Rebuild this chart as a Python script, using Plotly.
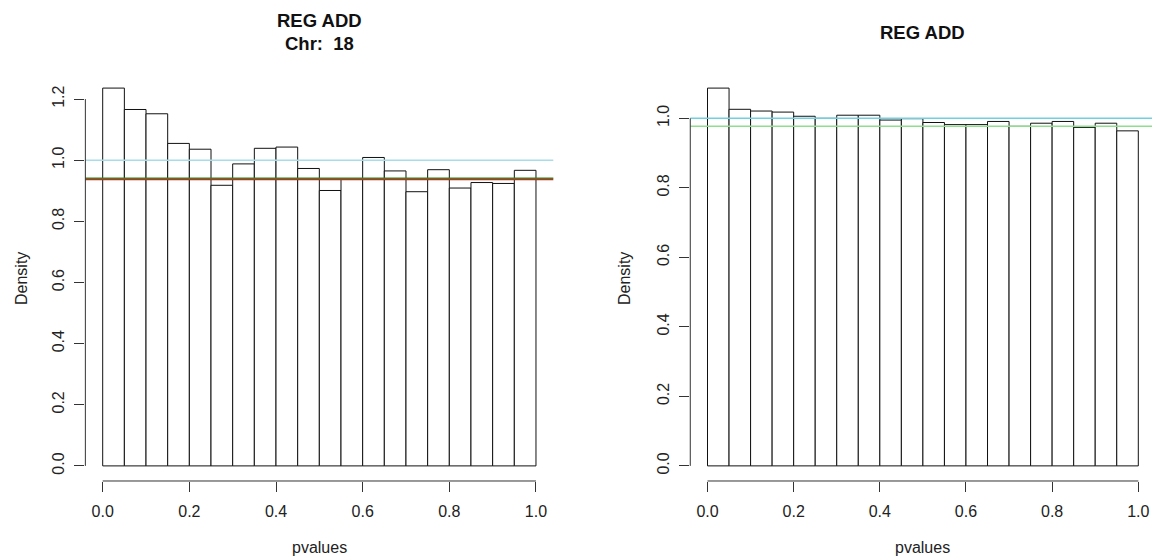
import plotly.graph_objects as go

# ---- data ----
bin_left = [0.00, 0.05, 0.10, 0.15, 0.20, 0.25, 0.30, 0.35, 0.40, 0.45,
            0.50, 0.55, 0.60, 0.65, 0.70, 0.75, 0.80, 0.85, 0.90, 0.95]
bin_width = 0.05
left_density = [1.236, 1.166, 1.152, 1.055, 1.036, 0.918, 0.988, 1.039, 1.043, 0.973,
                0.901, 0.937, 1.009, 0.965, 0.897, 0.969, 0.909, 0.927, 0.924, 0.967]
right_density = [1.087, 1.026, 1.021, 1.018, 1.006, 1.000, 1.009, 1.009, 0.995, 0.999,
                 0.988, 0.982, 0.982, 0.991, 0.977, 0.986, 0.991, 0.974, 0.986, 0.964]
x_ticks = [0.0, 0.2, 0.4, 0.6, 0.8, 1.0]
left_y_ticks = [0.0, 0.2, 0.4, 0.6, 0.8, 1.0, 1.2]
right_y_ticks = [0.0, 0.2, 0.4, 0.6, 0.8, 1.0]
left_lines = {"red": 0.937, "green": 0.941, "blue": 1.0}
right_lines = {"green": 0.977, "blue": 1.0}
left_title = ["REG ADD", "Chr:\u00a0 18"]
right_title = ["REG ADD"]
x_label = "pvalues"
y_label = "Density"

FONT = "Liberation Sans, Arial, Helvetica, sans-serif"
W, H = 1152, 558

fig = go.Figure()
bar_style = dict(marker=dict(color="white", line=dict(color="#111", width=1)),
                 width=bin_width, offset=0, showlegend=False, hoverinfo="skip")
fig.add_trace(go.Bar(x=bin_left, y=left_density, xaxis="x", yaxis="y", **bar_style))
fig.add_trace(go.Bar(x=bin_left, y=right_density, xaxis="x2", yaxis="y2", **bar_style))

axis_common = dict(showgrid=False, zeroline=False, showline=False, ticks="outside",
                   ticklen=10, tickwidth=1, tickcolor="#333",
                   tickfont=dict(family=FONT, size=16, color="#222"), tickformat=".1f")
xstand = 6
ystand = 4

ydom = [0.138, 0.8692]
fig.update_layout(
    width=W, height=H, margin=dict(l=0, r=0, t=0, b=0),
    paper_bgcolor="white", plot_bgcolor="white", bargap=0,
    xaxis=dict(domain=[0.0741, 0.4803], range=[-0.04, 1.04], tickvals=x_ticks,
               anchor="y", ticklabelstandoff=xstand, **axis_common),
    yaxis=dict(domain=ydom, range=[-0.0494, 1.2854], tickvals=left_y_ticks,
               anchor="x", tickangle=-90, ticklabelstandoff=ystand, **axis_common),
    xaxis2=dict(domain=[0.5992, 1.0], range=[-0.04, 1.0318], tickvals=x_ticks,
                anchor="y2", ticklabelstandoff=xstand, **axis_common),
    yaxis2=dict(domain=ydom, range=[-0.0435, 1.1305], tickvals=right_y_ticks,
                anchor="x2", tickangle=-90, ticklabelstandoff=ystand, **axis_common),
)

colors = {"red": "#e02020", "green": "#238b23", "blue": "#a8dce8"}
right_colors = {"green": "#90dd90", "blue": "#70d0e0"}

shapes = []
for name, val in left_lines.items():
    shapes.append(dict(type="line", xref="x domain", yref="y", x0=0, x1=1, y0=val, y1=val,
                       line=dict(color=colors[name], width=1.5)))
for name, val in right_lines.items():
    shapes.append(dict(type="line", xref="x2 domain", yref="y2", x0=0, x1=1, y0=val, y1=val,
                       line=dict(color=right_colors[name], width=1.5)))
# R-style axis lines spanning first to last tick
shapes.append(dict(type="line", xref="x", yref="y domain", x0=x_ticks[0], x1=x_ticks[-1],
                   y0=0, y1=0, line=dict(color="#333", width=1)))
shapes.append(dict(type="line", xref="x domain", yref="y", x0=0, x1=0,
                   y0=left_y_ticks[0], y1=left_y_ticks[-1], line=dict(color="#333", width=1)))
shapes.append(dict(type="line", xref="x2", yref="y2 domain", x0=x_ticks[0], x1=x_ticks[-1],
                   y0=0, y1=0, line=dict(color="#333", width=1)))
shapes.append(dict(type="line", xref="x2 domain", yref="y2", x0=0, x1=0,
                   y0=right_y_ticks[0], y1=right_y_ticks[-1], line=dict(color="#333", width=1)))
fig.update_layout(shapes=shapes)


def py(px):
    return 1 - px / H


ann = []
tfont = dict(family=FONT, size=18.5, color="#111")
ann.append(dict(text="<b>%s</b>" % left_title[0], x=319.4 / W, y=py(21.0), xref="paper", yref="paper",
                showarrow=False, xanchor="center", yanchor="middle", font=tfont))
ann.append(dict(text="<b>%s</b>" % left_title[1], x=319.4 / W, y=py(43.8), xref="paper", yref="paper",
                showarrow=False, xanchor="center", yanchor="middle", font=tfont))
ann.append(dict(text="<b>%s</b>" % right_title[0], x=922.9 / W, y=py(33.0), xref="paper", yref="paper",
                showarrow=False, xanchor="center", yanchor="middle", font=tfont))
lfont = dict(family=FONT, size=16, color="#222")
for cx in (319.4, 922.9):
    ann.append(dict(text=x_label, x=cx / W, y=py(547), xref="paper", yref="paper",
                    showarrow=False, xanchor="center", yanchor="middle", font=lfont))
for cx in (21, 624):
    ann.append(dict(text=y_label, x=cx / W, y=py(279), xref="paper", yref="paper",
                    showarrow=False, xanchor="center", yanchor="middle", textangle=-90, font=lfont))
fig.update_layout(annotations=ann)

fig.write_html("out.html", config={"displayModeBar": False, "staticPlot": True},
               post_script="document.body.style.margin='0';document.body.style.overflow='hidden';")
